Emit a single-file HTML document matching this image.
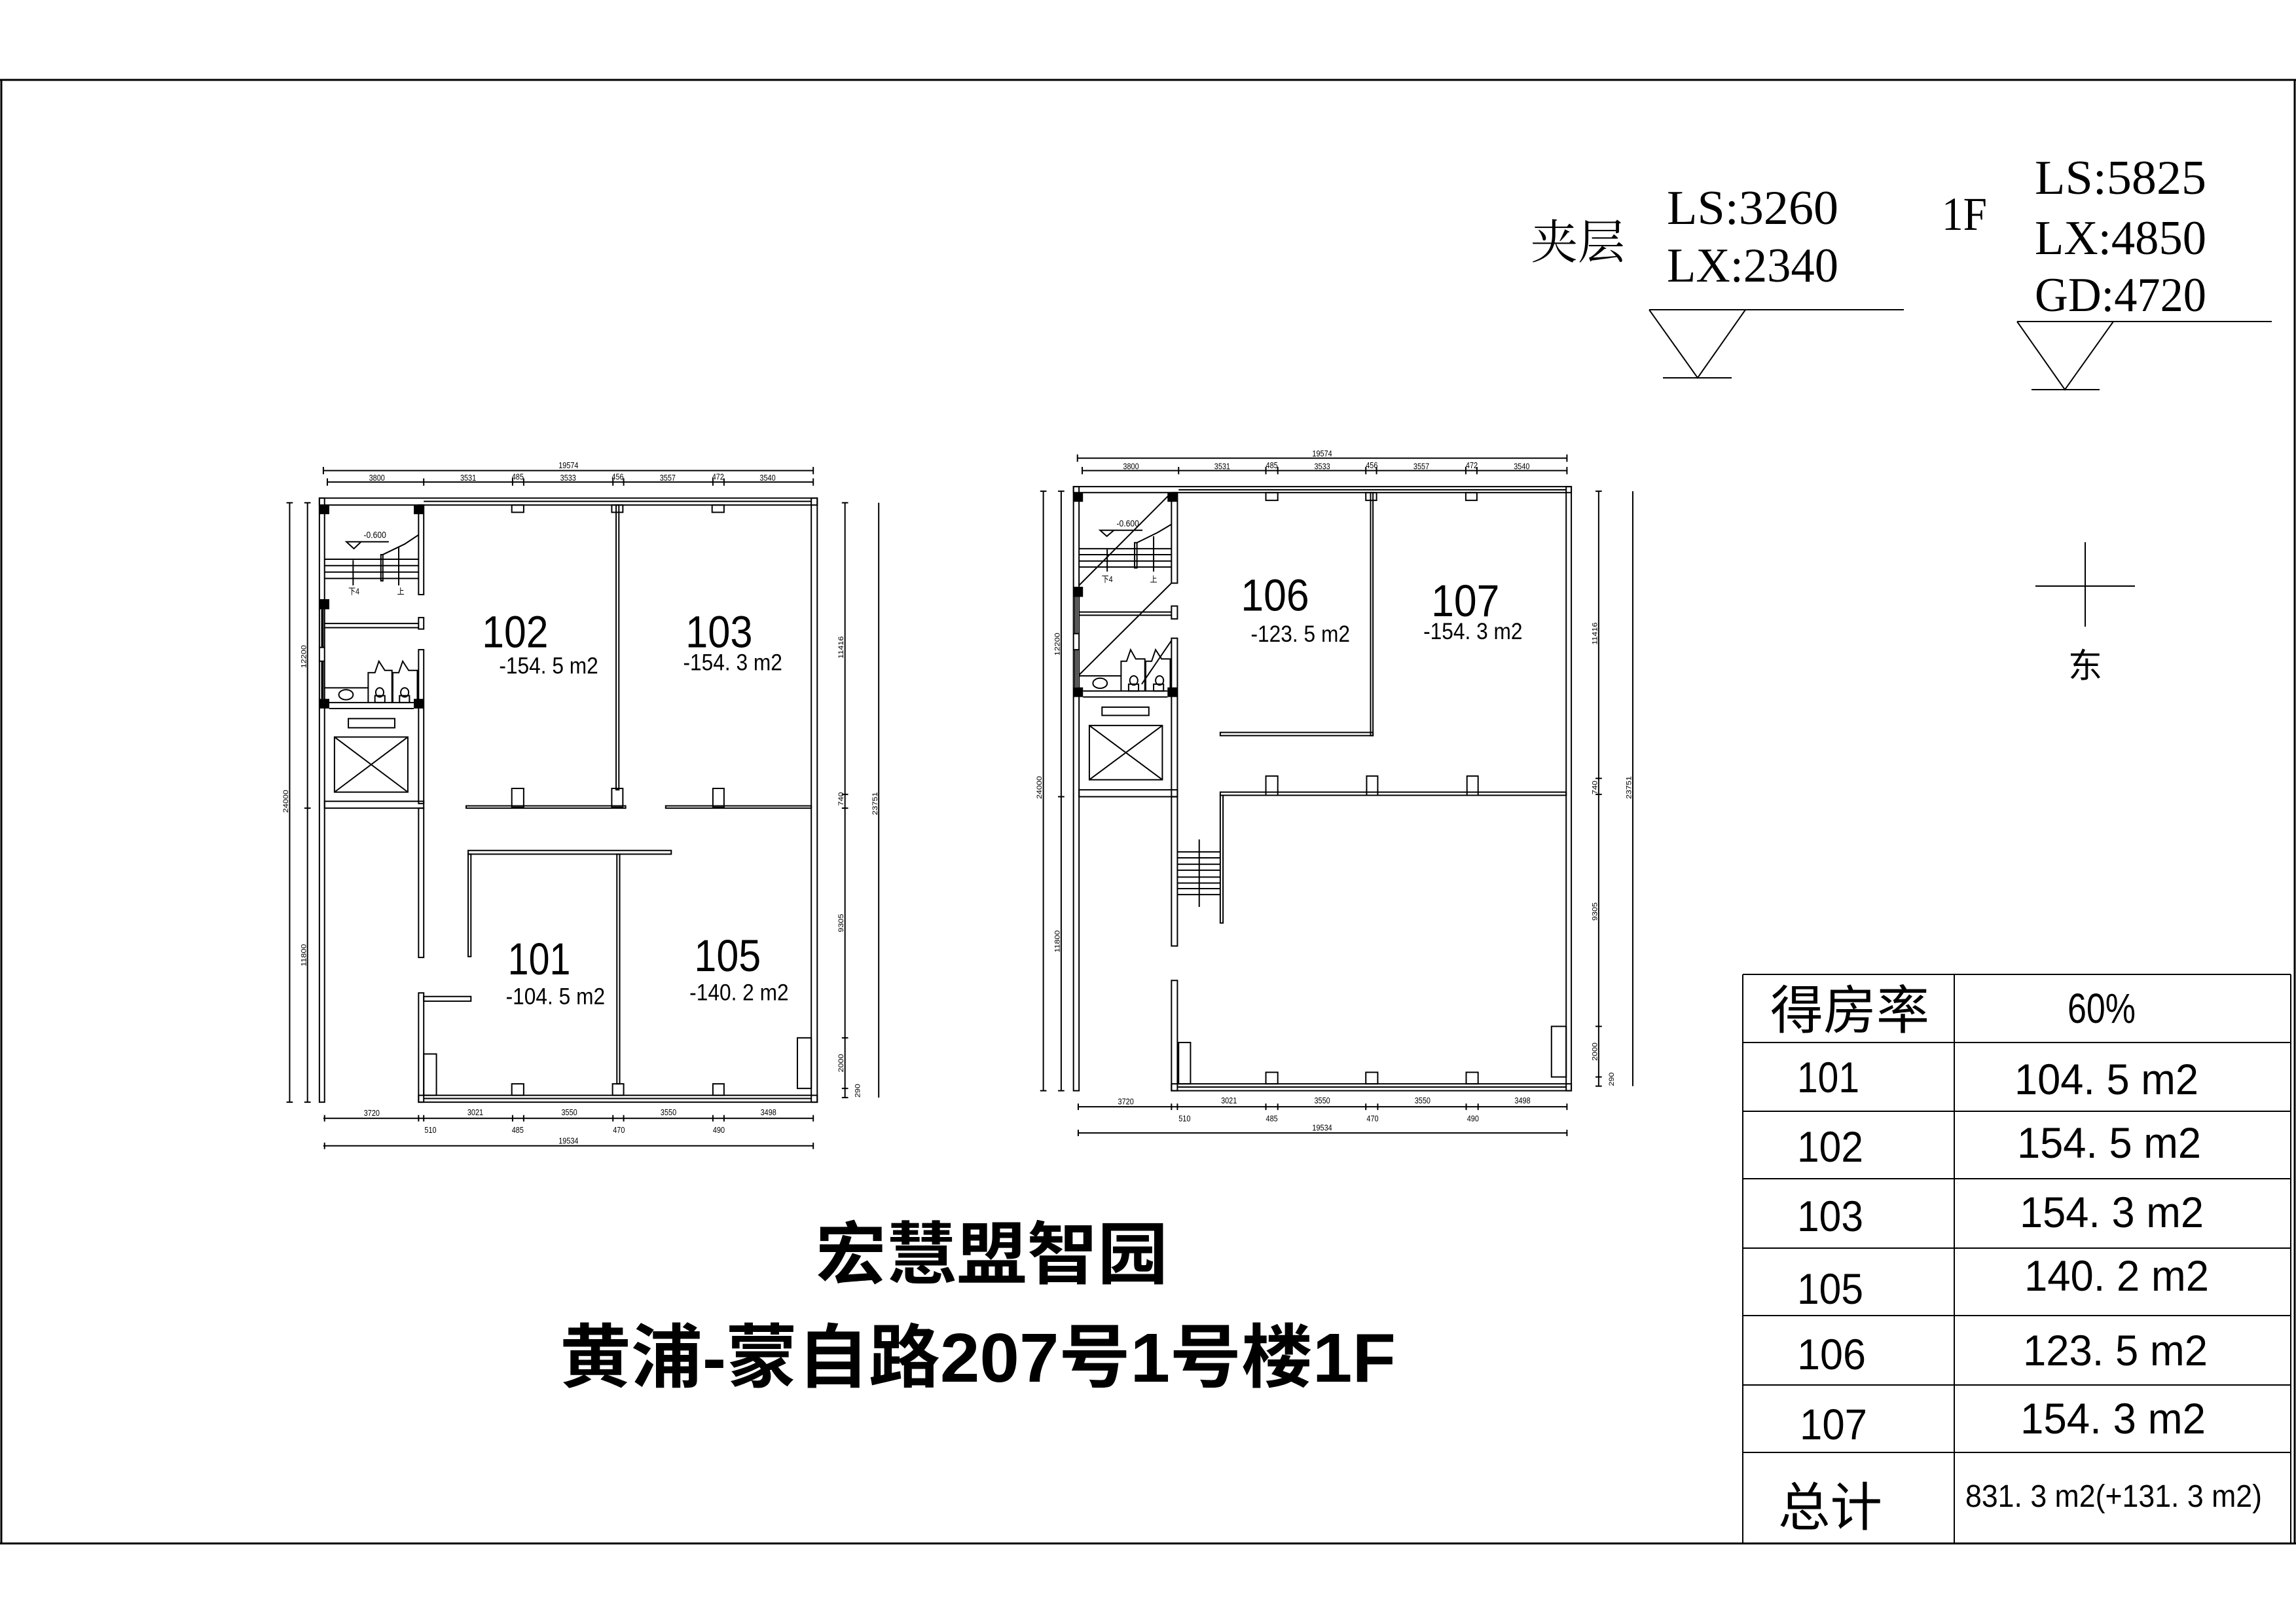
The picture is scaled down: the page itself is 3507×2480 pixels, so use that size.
<!DOCTYPE html>
<html><head><meta charset="utf-8"><style>
html,body{margin:0;padding:0;background:#fff}
svg{display:block}
svg *{vector-effect:non-scaling-stroke}
.l{stroke:#000;stroke-width:2;fill:none}
.f{fill:#000;stroke:none}
.d{font-family:"Liberation Sans",sans-serif;font-size:18px;fill:#000;text-anchor:middle}
.rn{font-family:"Liberation Sans",sans-serif;font-size:98px;fill:#000}
.ra{font-family:"Liberation Sans",sans-serif;font-size:50px;fill:#000}
.sv{font-family:"Liberation Serif","Noto Serif CJK SC",serif;fill:#000}
.ts{font-family:"Liberation Sans","Noto Sans CJK SC",sans-serif;fill:#000}
</style></head><body>
<svg width="3507" height="2480" viewBox="0 0 3507 2480" xmlns="http://www.w3.org/2000/svg">
<rect x="0" y="0" width="3507" height="2480" fill="#fff"/>
<!-- frame -->
<g class="l" style="stroke-width:3">
<line x1="0" y1="122" x2="3507" y2="122"/>
<line x1="2" y1="122" x2="2" y2="2357"/>
<line x1="3505" y1="122" x2="3505" y2="2357"/>
<line x1="0" y1="2357" x2="3507" y2="2357"/>
</g>

<!-- levels -->
<text class="sv" x="2338" y="395" font-size="72">夹层</text>
<text class="sv" x="2546" y="342" font-size="74" textLength="262" lengthAdjust="spacingAndGlyphs">LS:3260</text>
<text class="sv" x="2546" y="430" font-size="74" textLength="262" lengthAdjust="spacingAndGlyphs">LX:2340</text>
<text class="sv" x="2966" y="351" font-size="72" textLength="69" lengthAdjust="spacingAndGlyphs">1F</text>
<text class="sv" x="3108" y="296" font-size="74" textLength="262" lengthAdjust="spacingAndGlyphs">LS:5825</text>
<text class="sv" x="3108" y="388" font-size="74" textLength="262" lengthAdjust="spacingAndGlyphs">LX:4850</text>
<text class="sv" x="3108" y="475" font-size="74" textLength="262" lengthAdjust="spacingAndGlyphs">GD:4720</text>
<g class="l">
<line x1="2519" y1="473" x2="2908" y2="473"/>
<polyline points="2519,473 2593,577 2666,473"/>
<line x1="2540" y1="577" x2="2645" y2="577"/>
<line x1="3081" y1="491" x2="3470" y2="491"/>
<polyline points="3081,491 3154,595 3228,491"/>
<line x1="3103" y1="595" x2="3207" y2="595"/>
<line x1="3109" y1="895" x2="3261" y2="895"/>
<line x1="3185" y1="828" x2="3185" y2="957"/>
</g>
<text class="ts" x="3185" y="1035" font-size="52" text-anchor="middle">东</text>

<!-- table -->
<g class="l">
<line x1="2662" y1="1488" x2="3499" y2="1488"/>
<line x1="2662" y1="1592" x2="3499" y2="1592"/>
<line x1="2662" y1="1697" x2="3499" y2="1697"/>
<line x1="2662" y1="1800" x2="3499" y2="1800"/>
<line x1="2662" y1="1906" x2="3499" y2="1906"/>
<line x1="2662" y1="2009" x2="3499" y2="2009"/>
<line x1="2662" y1="2115" x2="3499" y2="2115"/>
<line x1="2662" y1="2218" x2="3499" y2="2218"/>
<line x1="2662" y1="1488" x2="2662" y2="2357"/>
<line x1="2985" y1="1488" x2="2985" y2="2357"/>
<line x1="3499" y1="1488" x2="3499" y2="2357"/>
</g>
<g class="ts">
<text x="2704" y="1571" font-size="80" textLength="243" lengthAdjust="spacingAndGlyphs">得房率</text>
<text x="3158" y="1562" font-size="64" textLength="104" lengthAdjust="spacingAndGlyphs">60%</text>
<text x="2745" y="1668" font-size="66" textLength="95" lengthAdjust="spacingAndGlyphs">101</text>
<text x="3077" y="1671" font-size="66" textLength="281" lengthAdjust="spacingAndGlyphs">104. 5 m2</text>
<text x="2745" y="1774" font-size="66" textLength="101" lengthAdjust="spacingAndGlyphs">102</text>
<text x="3081" y="1768" font-size="66" textLength="281" lengthAdjust="spacingAndGlyphs">154. 5 m2</text>
<text x="2745" y="1880" font-size="66" textLength="101" lengthAdjust="spacingAndGlyphs">103</text>
<text x="3085" y="1874" font-size="66" textLength="281" lengthAdjust="spacingAndGlyphs">154. 3 m2</text>
<text x="2745" y="1991" font-size="66" textLength="101" lengthAdjust="spacingAndGlyphs">105</text>
<text x="3092" y="1971" font-size="66" textLength="282" lengthAdjust="spacingAndGlyphs">140. 2 m2</text>
<text x="2745" y="2091" font-size="66" textLength="105" lengthAdjust="spacingAndGlyphs">106</text>
<text x="3090" y="2085" font-size="66" textLength="282" lengthAdjust="spacingAndGlyphs">123. 5 m2</text>
<text x="2749" y="2198" font-size="66" textLength="103" lengthAdjust="spacingAndGlyphs">107</text>
<text x="3086" y="2189" font-size="66" textLength="283" lengthAdjust="spacingAndGlyphs">154. 3 m2</text>
<text x="2716" y="2330" font-size="80" textLength="159" lengthAdjust="spacingAndGlyphs">总计</text>
<text x="3002" y="2301" font-size="48" textLength="453" lengthAdjust="spacingAndGlyphs">831. 3 m2(+131. 3 m2)</text>
</g>

<!-- title -->
<text class="ts" x="1246" y="1952" font-size="104" font-weight="700" textLength="538" lengthAdjust="spacingAndGlyphs">宏慧盟智园</text>
<text class="ts" x="855" y="2110" font-size="106" font-weight="700" textLength="1277" lengthAdjust="spacingAndGlyphs">黄浦-蒙自路207号1号楼1F</text>

<!-- PLAN 1 -->
<g transform="translate(400,680) scale(0.6059,0.7015)">
<g class="l">
<line x1="155" y1="55" x2="1390" y2="55"/>
<line x1="165" y1="80" x2="1390" y2="80"/>
<path d="M165,72V88M408,72V88M632,72V88M660,72V88M885,72V88M912,72V88M1137,72V88M1165,72V88M1390,72V88M155,47V63M1390,47V63"/>
<rect x="145" y="115" width="1255" height="15"/>
<line x1="408" y1="122" x2="1385" y2="122"/>
<rect x="145" y="115" width="13" height="1315"/>
<rect x="1385" y="115" width="15" height="1315"/>
<rect x="395" y="1415" width="1005" height="15"/>
<line x1="408" y1="1422" x2="1385" y2="1422"/>
<rect x="395" y="130" width="13" height="195"/>
<rect x="395" y="375" width="13" height="25"/>
<rect x="395" y="445" width="13" height="335"/>
<rect x="158" y="775" width="250" height="15"/>
<rect x="395" y="790" width="13" height="325"/>
<rect x="395" y="1192" width="13" height="238"/>
<line x1="151" y1="357" x2="151" y2="440"/><line x1="154" y1="357" x2="154" y2="440"/>
<line x1="151" y1="470" x2="151" y2="552"/><line x1="154" y1="470" x2="154" y2="552"/>
<line x1="145" y1="440" x2="158" y2="440"/><line x1="145" y1="470" x2="158" y2="470"/>
<line x1="158" y1="388" x2="395" y2="388"/><line x1="158" y1="397" x2="395" y2="397"/>
<line x1="170" y1="560" x2="383" y2="560"/><line x1="170" y1="573" x2="383" y2="573"/>
<path d="M158,248H395M158,262H395M158,276H395M158,290H395"/>
<rect x="300" y="238" width="5" height="57"/>
<path d="M305,238L360,215L395,195"/>
<path d="M213,210H250L232,225Z M250,210H320"/>
<path d="M230,250V305M345,222V305"/>
<path d="M268,560V495H285L295,470L310,490H328V560M330,560V495H345L355,470L370,490H392V560"/>
<circle cx="297" cy="538" r="10"/><circle cx="360" cy="538" r="10"/>
<rect x="285" y="545" width="25" height="15"/><rect x="347" y="545" width="25" height="15"/>
<ellipse cx="212" cy="543" rx="18" ry="11"/>
<line x1="158" y1="528" x2="268" y2="528"/>
<rect x="218" y="595" width="117" height="20"/>
<rect x="183" y="635" width="185" height="120"/>
<path d="M183,635L368,755M368,635L183,755"/>
<rect x="893" y="130" width="7" height="620"/>
<rect x="515" y="785" width="402" height="5"/>
<rect x="1018" y="785" width="367" height="5"/>
<rect x="630" y="130" width="30" height="16"/><rect x="882" y="130" width="28" height="16"/><rect x="1135" y="130" width="30" height="16"/>
<rect x="630" y="747" width="30" height="41"/><rect x="882" y="747" width="28" height="41"/><rect x="1137" y="747" width="28" height="41"/>
<rect x="630" y="1390" width="30" height="25"/><rect x="884" y="1390" width="28" height="25"/><rect x="1137" y="1390" width="28" height="25"/>
<rect x="520" y="882" width="512" height="8"/>
<rect x="520" y="890" width="7" height="223"/>
<rect x="895" y="890" width="7" height="500"/>
<rect x="408" y="1200" width="119" height="10"/>
<rect x="408" y="1325" width="32" height="90"/>
<rect x="1350" y="1290" width="35" height="110"/>
<line x1="1470" y1="125" x2="1470" y2="1420"/>
<path d="M1462,125H1478M1462,760H1478M1462,790H1478M1462,1290H1478M1462,1400H1478M1462,1420H1478"/>
<line x1="1555" y1="125" x2="1555" y2="1420"/>
<line x1="70" y1="125" x2="70" y2="1430"/>
<line x1="115" y1="125" x2="115" y2="1430"/>
<path d="M62,125H78M62,1430H78M107,125H123M107,790H123M107,1430H123"/>
<line x1="155" y1="1465" x2="1390" y2="1465"/>
<path d="M158,1458V1472M395,1458V1472M408,1458V1472M632,1458V1472M660,1458V1472M885,1458V1472M912,1458V1472M1137,1458V1472M1165,1458V1472M1390,1458V1472"/>
<line x1="155" y1="1525" x2="1390" y2="1525"/>
<path d="M158,1518V1532M1390,1518V1532"/>
</g>
<g class="f">
<rect x="145" y="130" width="25" height="20"/><rect x="383" y="130" width="25" height="20"/>
<rect x="145" y="335" width="25" height="22"/><rect x="145" y="552" width="25" height="21"/>
<rect x="383" y="552" width="25" height="21"/>
</g>
<g class="d">
<text x="773" y="50">19574</text>
<text x="290" y="77">3800</text><text x="520" y="77">3531</text><text x="645" y="75">485</text><text x="772" y="77">3533</text><text x="897" y="75">456</text><text x="1023" y="77">3557</text><text x="1150" y="75">472</text><text x="1275" y="77">3540</text>
<text x="277" y="1460">3720</text><text x="538" y="1458">3021</text><text x="775" y="1458">3550</text><text x="1025" y="1458">3550</text><text x="1277" y="1458">3498</text>
<text x="425" y="1497">510</text><text x="645" y="1497">485</text><text x="900" y="1497">470</text><text x="1152" y="1497">490</text>
<text x="773" y="1520">19534</text>
<text x="285" y="202" font-size="20">-0.600</text>
<text x="232" y="324">下4</text><text x="350" y="324">上</text>
<text transform="translate(1466,440) rotate(-90)">11416</text>
<text transform="translate(1466,770) rotate(-90)">740</text>
<text transform="translate(1466,1040) rotate(-90)">9305</text>
<text transform="translate(1466,1345) rotate(-90)">2000</text>
<text transform="translate(1508,1405) rotate(-90)">290</text>
<text transform="translate(1551,780) rotate(-90)">23751</text>
<text transform="translate(66,775) rotate(-90)">24000</text>
<text transform="translate(111,460) rotate(-90)">12200</text>
<text transform="translate(111,1110) rotate(-90)">11800</text>
</g>
<text class="rn" x="555" y="440" textLength="167" lengthAdjust="spacingAndGlyphs">102</text>
<text class="ra" x="598" y="497" textLength="250" lengthAdjust="spacingAndGlyphs">-154. 5 m2</text>
<text class="rn" x="1068" y="440" textLength="169" lengthAdjust="spacingAndGlyphs">103</text>
<text class="ra" x="1062" y="490" textLength="250" lengthAdjust="spacingAndGlyphs">-154. 3 m2</text>
<text class="rn" x="620" y="1152" textLength="158" lengthAdjust="spacingAndGlyphs">101</text>
<text class="ra" x="615" y="1217" textLength="250" lengthAdjust="spacingAndGlyphs">-104. 5 m2</text>
<text class="rn" x="1090" y="1145" textLength="168" lengthAdjust="spacingAndGlyphs">105</text>
<text class="ra" x="1078" y="1208" textLength="250" lengthAdjust="spacingAndGlyphs">-140. 2 m2</text>
</g>

<!-- PLAN 2 -->
<g transform="translate(1550,680) scale(0.6059,0.7015)">
<g class="l">
<line x1="158" y1="28" x2="1392" y2="28"/>
<line x1="170" y1="55" x2="1392" y2="55"/>
<path d="M170,47V63M413,47V63M633,47V63M663,47V63M885,47V63M912,47V63M1137,47V63M1165,47V63M1392,47V63M158,20V36M1392,20V36"/>
<rect x="148" y="90" width="1255" height="13"/>
<line x1="413" y1="97" x2="1390" y2="97"/>
<rect x="148" y="90" width="14" height="1315"/>
<rect x="1390" y="90" width="13" height="1315"/>
<rect x="395" y="1390" width="1008" height="15"/>
<line x1="410" y1="1397" x2="1390" y2="1397"/>
<rect x="395" y="103" width="15" height="197"/>
<rect x="395" y="350" width="15" height="28"/>
<rect x="395" y="420" width="15" height="345"/>
<rect x="162" y="750" width="248" height="15"/>
<rect x="395" y="765" width="15" height="325"/>
<rect x="395" y="1165" width="15" height="240"/>
<line x1="152" y1="330" x2="152" y2="410"/><line x1="157" y1="330" x2="157" y2="410"/>
<line x1="152" y1="445" x2="152" y2="527"/><line x1="157" y1="445" x2="157" y2="527"/>
<line x1="148" y1="410" x2="162" y2="410"/><line x1="148" y1="445" x2="162" y2="445"/>
<line x1="162" y1="363" x2="395" y2="363"/><line x1="162" y1="370" x2="395" y2="370"/>
<line x1="172" y1="535" x2="385" y2="535"/><line x1="172" y1="548" x2="385" y2="548"/>
<path d="M162,225H395M162,238H395M162,252H395M162,265H395"/>
<rect x="302" y="212" width="6" height="55"/>
<path d="M308,212L360,190L395,172"/>
<path d="M215,185H250L232,198Z M250,185H322"/>
<path d="M233,225V275M350,198V275"/>
<path d="M162,305L395,103M162,500L395,300M320,520L395,425"/>
<path d="M268,535V470H282L292,445L305,465H328V535M330,535V470H345L355,445L370,465H392V535"/>
<circle cx="300" cy="512" r="10"/><circle cx="365" cy="512" r="10"/>
<rect x="287" y="520" width="25" height="15"/><rect x="350" y="520" width="25" height="15"/>
<ellipse cx="215" cy="518" rx="18" ry="11"/>
<line x1="162" y1="502" x2="268" y2="502"/>
<rect x="220" y="570" width="118" height="18"/>
<rect x="188" y="610" width="184" height="118"/>
<path d="M188,610L372,728M372,610L188,728"/>
<rect x="897" y="103" width="6" height="529"/>
<rect x="518" y="625" width="385" height="7"/>
<rect x="518" y="755" width="872" height="7"/>
<rect x="518" y="762" width="7" height="278"/>
<rect x="633" y="103" width="30" height="17"/><rect x="885" y="103" width="27" height="17"/><rect x="1137" y="103" width="28" height="17"/>
<rect x="633" y="720" width="30" height="42"/><rect x="887" y="720" width="28" height="42"/><rect x="1140" y="720" width="28" height="42"/>
<rect x="633" y="1365" width="30" height="25"/><rect x="885" y="1365" width="30" height="25"/><rect x="1138" y="1365" width="30" height="25"/>
<path d="M410,885H518M410,898H518M410,912H518M410,925H518M410,940H518M410,953H518M410,965H518M410,978H518M465,858V1005"/>
<rect x="413" y="1300" width="30" height="90"/>
<rect x="1353" y="1265" width="37" height="110"/>
<line x1="1472" y1="100" x2="1472" y2="1395"/>
<path d="M1464,100H1480M1464,725H1480M1464,760H1480M1464,1265H1480M1464,1375H1480M1464,1395H1480"/>
<line x1="1558" y1="100" x2="1558" y2="1395"/>
<line x1="72" y1="100" x2="72" y2="1405"/>
<line x1="117" y1="100" x2="117" y2="1405"/>
<path d="M64,100H80M64,1405H80M109,100H125M109,765H125M109,1405H125"/>
<line x1="160" y1="1440" x2="1392" y2="1440"/>
<path d="M160,1433V1447M395,1433V1447M410,1433V1447M633,1433V1447M663,1433V1447M885,1433V1447M915,1433V1447M1138,1433V1447M1168,1433V1447M1392,1433V1447"/>
<line x1="160" y1="1497" x2="1392" y2="1497"/>
<path d="M160,1490V1504M1392,1490V1504"/>
</g>
<g class="f">
<rect x="148" y="103" width="24" height="20"/><rect x="385" y="103" width="25" height="20"/>
<rect x="148" y="308" width="24" height="22"/><rect x="148" y="527" width="24" height="21"/>
<rect x="385" y="527" width="25" height="21"/>
</g>
<g class="d">
<text x="775" y="24">19574</text>
<text x="293" y="52">3800</text><text x="523" y="52">3531</text><text x="648" y="50">485</text><text x="775" y="52">3533</text><text x="900" y="50">456</text><text x="1025" y="52">3557</text><text x="1152" y="50">472</text><text x="1278" y="52">3540</text>
<text x="280" y="1435">3720</text><text x="540" y="1433">3021</text><text x="775" y="1433">3550</text><text x="1028" y="1433">3550</text><text x="1280" y="1433">3498</text>
<text x="428" y="1472">510</text><text x="648" y="1472">485</text><text x="902" y="1472">470</text><text x="1155" y="1472">490</text>
<text x="775" y="1492">19534</text>
<text x="285" y="177" font-size="20">-0.600</text>
<text x="233" y="298">下4</text><text x="350" y="298">上</text>
<text transform="translate(1468,410) rotate(-90)">11416</text>
<text transform="translate(1468,745) rotate(-90)">740</text>
<text transform="translate(1468,1015) rotate(-90)">9305</text>
<text transform="translate(1468,1320) rotate(-90)">2000</text>
<text transform="translate(1510,1380) rotate(-90)">290</text>
<text transform="translate(1554,745) rotate(-90)">23751</text>
<text transform="translate(68,745) rotate(-90)">24000</text>
<text transform="translate(113,433) rotate(-90)">12200</text>
<text transform="translate(113,1080) rotate(-90)">11800</text>
</g>
<text class="rn" x="570" y="360" textLength="172" lengthAdjust="spacingAndGlyphs">106</text>
<text class="ra" x="595" y="428" textLength="250" lengthAdjust="spacingAndGlyphs">-123. 5 m2</text>
<text class="rn" x="1050" y="372" textLength="172" lengthAdjust="spacingAndGlyphs">107</text>
<text class="ra" x="1030" y="422" textLength="250" lengthAdjust="spacingAndGlyphs">-154. 3 m2</text>
</g>
</svg>
</body></html>
